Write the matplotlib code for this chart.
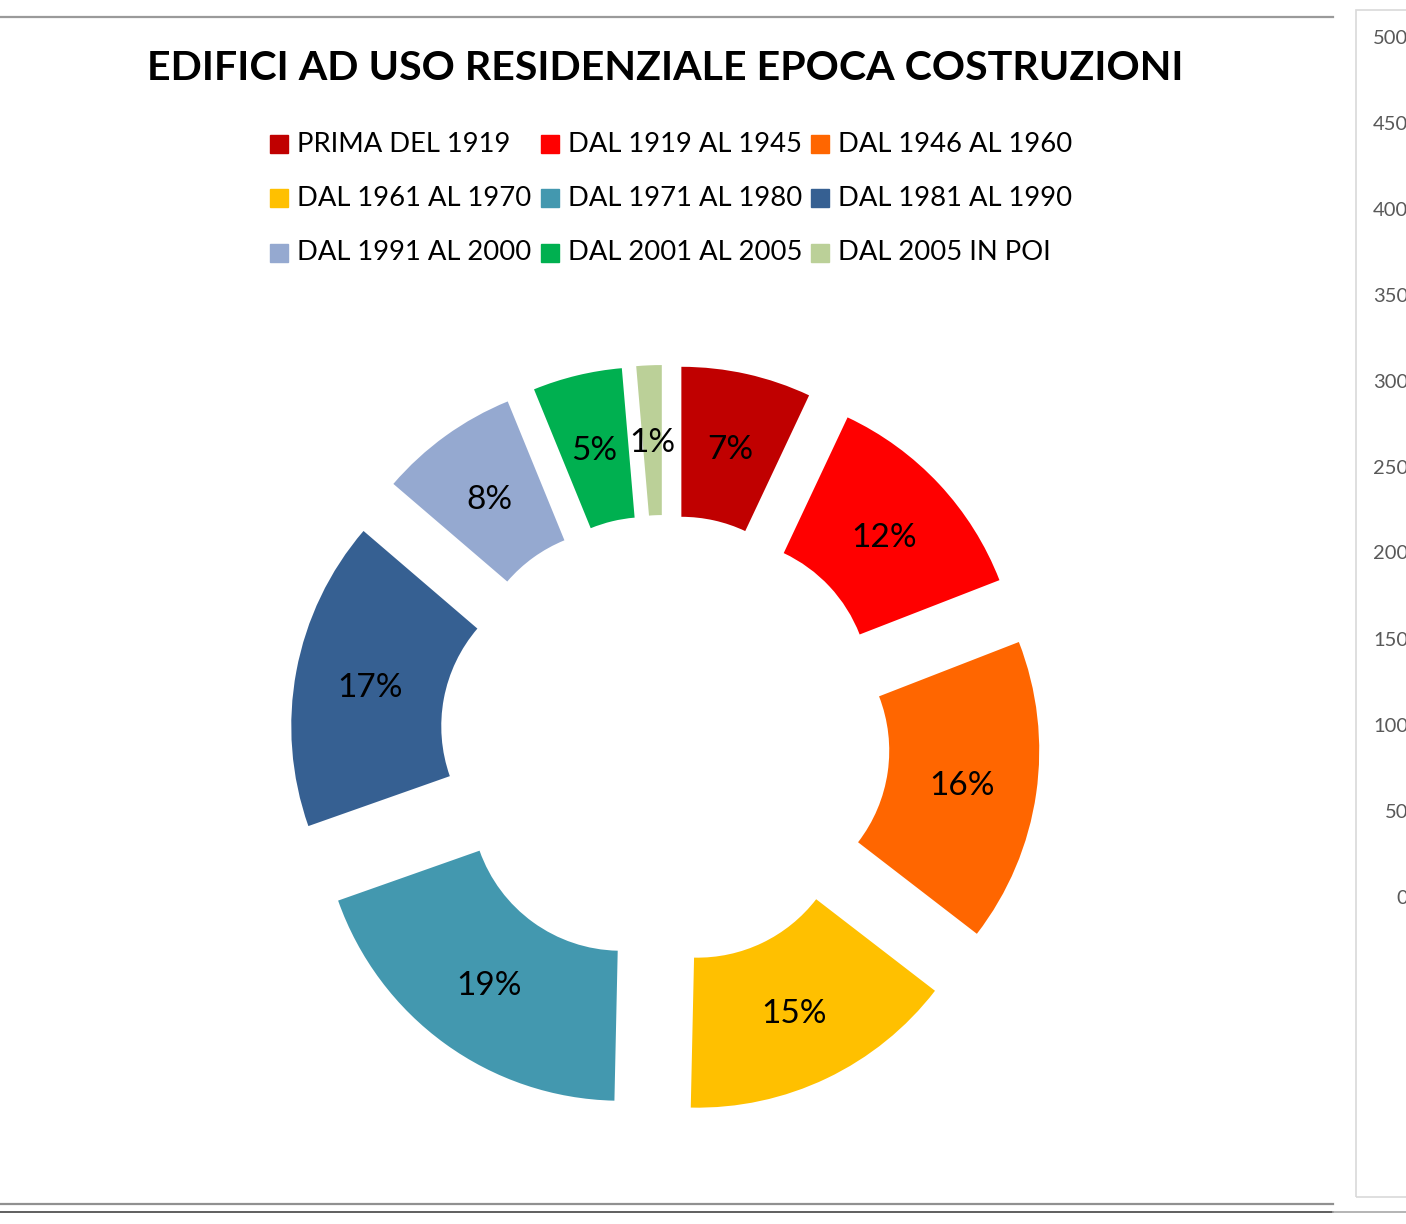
import matplotlib.pyplot as plt
from matplotlib.patches import Rectangle
from matplotlib.lines import Line2D
from matplotlib.transforms import ScaledTranslation

plt.rcParams['font.family'] = ['Lato', 'DejaVu Sans']

title = "EDIFICI AD USO RESIDENZIALE EPOCA COSTRUZIONI"
categories = ["PRIMA DEL 1919", "DAL 1919 AL 1945", "DAL 1946 AL 1960",
              "DAL 1961 AL 1970", "DAL 1971 AL 1980", "DAL 1981 AL 1990",
              "DAL 1991 AL 2000", "DAL 2001 AL 2005", "DAL 2005 IN POI"]
# shares in % (labels show them rounded)
shares = [7.0, 12.1, 16.35, 14.9, 19.25, 16.68, 7.55, 4.81, 1.36]
colors = ["#C00000", "#FF0000", "#FF6600", "#FFC000", "#4398AF",
          "#366092", "#95A9D0", "#00B050", "#BBD098"]
side_ticks = [500, 450, 400, 350, 300, 250, 200, 150, 100, 50, 0]

W, H = 1406, 1224
fig = plt.figure(figsize=(W / 100, H / 100), dpi=100)

# donut, 1 data unit = 300 px
cx, cy, R = 665, 740, 300
ax = fig.add_axes([0, 0, 1, 1])
wedges, texts, autotexts = ax.pie(
    shares, colors=colors, startangle=90, counterclock=False,
    explode=[0.25] * len(shares), radius=1,
    wedgeprops=dict(width=0.5, linewidth=0),
    autopct='%1.0f%%', pctdistance=0.75,
    textprops=dict(fontsize=24, color='black'))
shift = ScaledTranslation(0, -3 / 100, fig.dpi_scale_trans)
for t in autotexts:
    t.set_transform(ax.transData + shift)
ax.set_xlim(-cx / R, (W - cx) / R)
ax.set_ylim(-(H - cy) / R, cy / R)
ax.set_aspect('equal')
ax.axis('off')

fig.text(665 / W, 1 - 69 / H, title, ha='center', va='center',
         fontsize=29.6, fontweight='bold')

# legend, row-major 3x3
col_x = [270, 541, 811]
row_y = [144, 198, 253]
for i, lab in enumerate(categories):
    r, c = divmod(i, 3)
    x0, y0 = col_x[c], row_y[r]
    fig.patches.append(Rectangle((x0 / W, 1 - (y0 + 9) / H), 18 / W, 18 / H,
                                 transform=fig.transFigure, color=colors[i]))
    fig.text((x0 + 27) / W, 1 - y0 / H, lab, ha='left', va='center',
             fontsize=19.7, color='black')

# frame lines
def hline(y, x0, x1, col, lw):
    fig.lines.append(Line2D([x0 / W, x1 / W], [1 - y / H, 1 - y / H],
                            transform=fig.transFigure, color=col, lw=lw))

hline(17, 0, 1333, '#9a9a9a', 1.6)
hline(1204, 0, 1333, '#909090', 1.6)
hline(1212, 0, 1333, '#444444', 1.2)
hline(1212, 1333, W, '#a8a8a8', 1.2)

# neighbouring chart, clipped at the right edge
fig.patches.append(Rectangle((1356 / W, 1 - 1197 / H), 100 / W, 1187 / H,
                             transform=fig.transFigure, fill=False,
                             edgecolor='#d9d9d9', lw=1.2))
for k, t in enumerate(side_ticks):
    fig.text(1408 / W, 1 - (38 + 86 * k) / H, str(t), ha='right', va='center',
             fontsize=14.5, color='#595959')

fig.savefig('out.png', dpi=100)
